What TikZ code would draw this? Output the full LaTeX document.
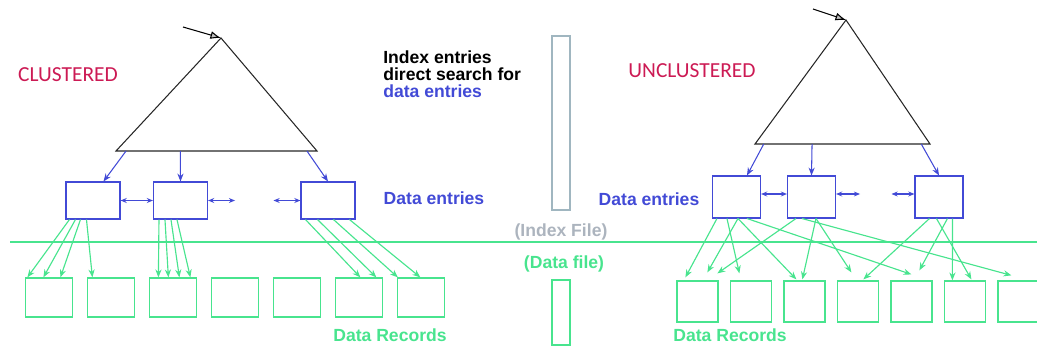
\documentclass[tikz,border=0pt]{standalone}
\usepackage{fontspec}
\setmainfont{Liberation Sans}
\newfontfamily\titlefont{Carlito}
\usetikzlibrary{arrows.meta,calc}
\definecolor{TitleClr}{RGB}{204,26,84}
\definecolor{EntryClr}{RGB}{66,74,214}
\definecolor{RecClr}{RGB}{72,228,142}
\definecolor{FileClr}{RGB}{172,180,190}
\definecolor{BarClr}{RGB}{160,182,192}

\tikzset{
  treeline/.style={line width=0.6pt,color=black!85},
  rootarrow/.style={line width=0.6pt,-{Latex[length=6pt,width=4.5pt,fill=gray!50]}},
  titletext/.style={font=\titlefont\fontsize{12.2}{14}\selectfont,text=TitleClr,inner sep=0pt},
  bodytext/.style={font=\fontsize{10}{9.7}\selectfont\bfseries,inner sep=0pt},
  entrybox/.style={draw=EntryClr,line width=0.6pt,inner sep=0pt},
  lbox/.style={minimum width=1.08cm,minimum height=0.74cm},
  rbox/.style={minimum width=0.96cm,minimum height=0.84cm},
  recbox/.style={draw=RecClr,line width=0.7pt,inner sep=0pt},
  lrec/.style={minimum width=0.94cm,minimum height=0.78cm},
  rrec/.style={minimum width=0.82cm,minimum height=0.82cm},
  entryarrow/.style={draw=EntryClr,line width=0.6pt,-{Stealth[length=4.5pt,width=3.5pt]}},
  linkarrow/.style={draw=EntryClr,line width=0.6pt,{Stealth[length=3.5pt,width=2.8pt]}-{Stealth[length=3.5pt,width=2.8pt]}},
  recarrow/.style={draw=RecClr,line width=0.65pt,-{Stealth[length=4.5pt,width=3.5pt]}}
}

\begin{document}
\begin{tikzpicture}[x=0.02cm,y=-0.02cm]
\useasboundingbox (0,0) rectangle (1037,348);
\clip (0,0) rectangle (1037,348);

% clustered index
\coordinate (ltop) at (221,38);
\coordinate (lbl) at (116,151);
\coordinate (lbr) at (317,151);
\coordinate (lroot) at (183,27);
\draw[treeline] (ltop) -- (lbl) -- (lbr) -- cycle;
\draw[rootarrow] (lroot) -- (ltop);
\node[titletext] (clus) at (68,75) {CLUSTERED};

\node[entrybox,lbox] (le1) at (93,200.5) {};
\node[entrybox,lbox] (le2) at (180.5,200.5) {};
\node[entrybox,lbox] (le3) at (328,200.5) {};

\draw[entryarrow] ($(lbl)!.05!(lbr)$) -- ([xshift=38*0.2mm]le1.north west);
\draw[entryarrow] ($(lbl)!.32!(lbr)$) -- (le2.north);
\draw[entryarrow] ($(lbl)!.95!(lbr)$) -- (le3.north);

\draw[linkarrow] (le1.east) -- (le2.west);
\draw[linkarrow] (le2.east) -- ++(27,0);
\draw[linkarrow] (le3.west) -- ++(-27,0);

\foreach \i in {1,...,7}
  \node[recbox,lrec] (lr\i) at ({49+62*(\i-1)},297.5) {};

\foreach \from/\fx/\to/\tx in {le1/4/lr1/2.5, le1/10/lr1/18.5, le1/15/lr1/35.5,
    le1/21/lr2/5.5, le2/6/lr3/9.5, le2/12/lr3/19.5, le2/18/lr3/30.5,
    le2/24/lr3/41.5, le3/5/lr6/25.5, le3/17/lr6/41.5, le3/33/lr7/1, le3/49/lr7/23.5}
  \draw[recarrow] ([xshift=\fx*0.2mm]\from.south west) -- ([xshift=\tx*0.2mm]\to.north west);

% unclustered index
\coordinate (rtop) at (846,20);
\coordinate (rbl) at (755,144);
\coordinate (rbr) at (930,144);
\coordinate (rroot) at (813,9);
\draw[treeline] (rtop) -- (rbl) -- (rbr) -- cycle;
\draw[rootarrow] (rroot) -- (rtop);
\node[titletext] (unclus) at (692,71) {UNCLUSTERED};

\node[entrybox,rbox] (re1) at (736.5,197) {};
\node[entrybox,rbox] (re2) at (811.5,197) {};
\node[entrybox,rbox] (re3) at (939,197) {};

\draw[entryarrow] ($(rbl)!.05!(rbr)$) -- ([xshift=35*0.2mm]re1.north west);
\draw[entryarrow] ($(rbl)!.326!(rbr)$) -- (re2.north);
\draw[entryarrow] ($(rbl)!.95!(rbr)$) -- (re3.north);

\draw[linkarrow] ([yshift=3*0.2mm]re1.east) -- ([yshift=3*0.2mm]re2.west);
\draw[linkarrow] ([yshift=3*0.2mm]re2.east) -- ++(24,0);
\draw[linkarrow] ([yshift=3*0.2mm]re3.west) -- ++(-23,0);

\foreach \i in {1,...,7}
  \node[recbox,rrec] (rr\i) at ({697.5+53.5*(\i-1)},301.5) {};

% from / offset / to / offset / gap above the record
\foreach \from/\fx/\to/\tx/\g in {re1/5/rr1/9/3, re1/15/rr2/9.5/7, re1/26/rr1/31/8,
    re1/26/rr3/13/1, re1/35/rr5/21/6, re2/9/rr1/41/7, re2/15/rr7/14/5,
    re2/29/rr3/19/1, re2/29/rr4/14.5/8, re3/15/rr4/26.5/1, re3/22/rr6/27.5/1,
    re3/33/rr5/29/10, re3/38/rr6/8.5/0}
  \draw[recarrow] ([xshift=\fx*0.2mm]\from.south west) -- ([xshift=\tx*0.2mm,yshift=\g*0.2mm]\to.north west);

% index file / data file split
\draw[BarClr,line width=0.6pt] (552,36) rectangle (570,210);
\draw[RecClr,line width=0.7pt] (552,280) rectangle (570,345);
\draw[RecClr,line width=0.8pt] (10,242) -- (1037,242);

\node[bodytext,anchor=north west,align=left] (idx) at (383,50)
  {Index entries\\direct search for\\\textcolor{EntryClr}{data entries}};
\node[bodytext,text=EntryClr] (lde) at (434,198) {Data entries};
\node[bodytext,text=EntryClr] (rde) at (649,199) {Data entries};
\node[bodytext,text=FileClr] (ifile) at (561,232) {(Index File)};
\node[bodytext,text=RecClr] (dfile) at (564,264) {(Data file)};
\node[bodytext,text=RecClr] (ldr) at (390,335.5) {Data Records};
\node[bodytext,text=RecClr] (rdr) at (730,335.5) {Data Records};

\end{tikzpicture}
\end{document}
